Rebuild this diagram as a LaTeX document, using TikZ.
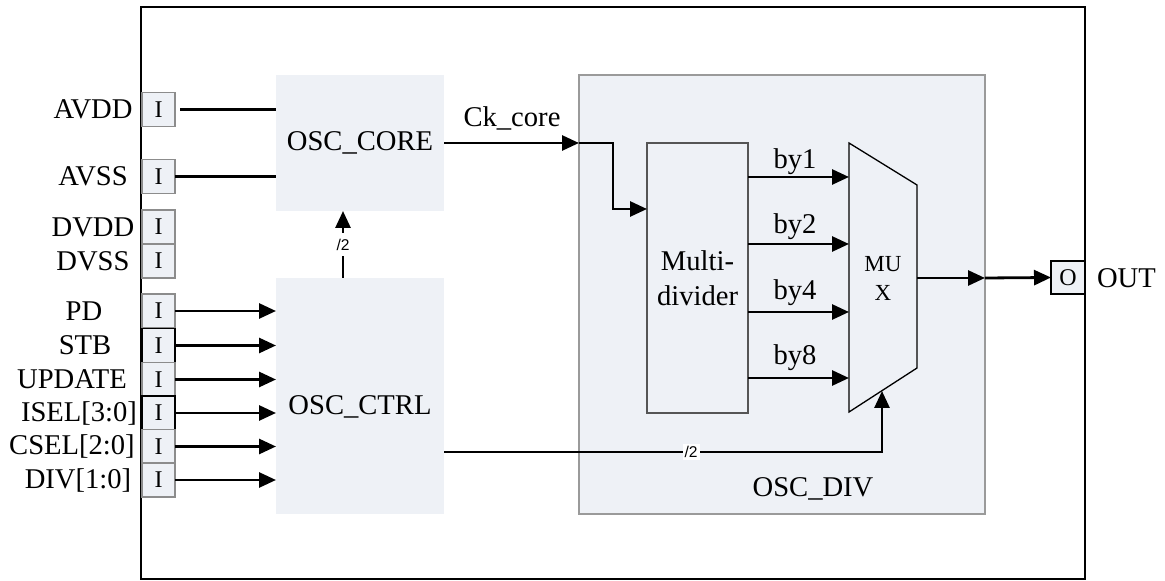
\documentclass[tikz,border=0pt]{standalone}
\usepackage{fontspec}
\setmainfont{Liberation Serif}
\newfontfamily\smallsans{Liberation Sans}
\usetikzlibrary{arrows.meta}
\definecolor{boxfill}{HTML}{EEF1F6}
\definecolor{pinborder}{HTML}{8C8C8C}
\definecolor{divborder}{HTML}{9A9A9A}
\definecolor{mdborder}{HTML}{555555}
\begin{document}
\begin{tikzpicture}[x=0.5pt,y=-0.5pt,
  every node/.style={inner sep=0pt, outer sep=0pt},
  pinbox/.style={draw=pinborder, line width=0.75pt, fill=boxfill, minimum width=16.5pt, minimum height=17pt, font=\fontsize{12}{13}\selectfont},
  pinblk/.style={pinbox, draw=black},
  blk/.style={fill=boxfill},
  lbl/.style={font=\fontsize{14.3}{17.5}\selectfont},
  wire/.style={line width=1.4pt},
  arr/.style={wire, -{Triangle[length=8.5pt,width=7.5pt]}},
  slashup/.style={font=\smallsans\fontsize{7.8}{8}\selectfont, fill=white, inner xsep=1pt, inner ysep=3pt},
  slashlo/.style={font=\smallsans\fontsize{7.8}{8}\selectfont, fill=white, inner sep=1pt}
]
\useasboundingbox (0,0) rectangle (1165,581);
\draw[line width=0.75pt] (141,7) rectangle (1085,579);

% main blocks
\node[blk, lbl, minimum width=84pt, minimum height=68pt] (core) at (360,143) {OSC\_CORE};
\node[blk, minimum width=84pt, minimum height=118pt] (ctrl) at (360,396) {};
\node[lbl] (ctrltxt) at (360,407) {OSC\_CTRL};
\node[blk, draw=divborder, line width=0.75pt, minimum width=203pt, minimum height=219.5pt] (div) at (782,294.5) {};
\node[lbl] (divtxt) at (813,489) {OSC\_DIV};
\node[draw=mdborder, line width=0.6pt, fill=boxfill, minimum width=50.5pt, minimum height=135pt, lbl, align=center] (md) at (697.5,278) {Multi-\\divider};

% MUX
\coordinate (m1) at (849,143);
\coordinate (m2) at (917,185);
\coordinate (m3) at (917,368);
\coordinate (m4) at (849,412);
\draw[line width=0.65pt] (m1) -- (m2) -- (m3) -- (m4) -- cycle;
\node[font=\fontsize{11.5}{14.5}\selectfont, align=center] (muxtxt) at (883,278) {MU\\X};

% pins
\node[pinbox] (pavdd) at (158.5,109.5) {I};
\node[pinbox] (pavss) at (158.5,176.5) {I};
\node[pinbox] (pdvdd) at (158.5,227) {I};
\node[pinbox] (pdvss) at (158.5,261) {I};
\node[pinbox] (ppd) at (158.5,311) {I};
\node[pinblk] (pstb) at (158.5,345.5) {I};
\node[pinbox] (pupd) at (158.5,379.5) {I};
\node[pinblk] (pisel) at (158.5,413) {I};
\node[pinbox] (pcsel) at (158.5,446.5) {I};
\node[pinbox] (pdiv) at (158.5,480) {I};
\node[pinblk, minimum width=17pt, minimum height=16.5pt] (popin) at (1068,277.5) {O};

% pin labels
\node[lbl] (lavdd) at (93,109) {AVDD};
\node[lbl] (lavss) at (93,176) {AVSS};
\node[lbl] (ldvdd) at (93,227) {DVDD};
\node[lbl] (ldvss) at (93,261) {DVSS};
\node[lbl] (lpd) at (84,311) {PD};
\node[lbl] (lstb) at (85,345) {STB};
\node[lbl] (lupd) at (72,379) {UPDATE};
\node[lbl] (lisel) at (79,413) {ISEL[3:0]};
\node[lbl] (lcsel) at (72,446) {CSEL[2:0]};
\node[lbl] (ldiv) at (78,480) {DIV[1:0]};
\node[lbl, anchor=west] (lout) at (1097,278) {OUT};

% supply wires
\draw[wire, shorten <=2.5pt] (pavdd.east) -- (core.west |- pavdd.east);
\draw[wire] (pavss.east) -- (core.west |- pavss.east);

% control inputs
\foreach \p in {ppd,pstb,pupd,pisel,pcsel,pdiv}
  \draw[arr] (\p.east) -- (ctrl.west |- \p.east);

% ctrl -> core
\coordinate (vx) at (343,0);
\draw[arr] (ctrl.north -| vx) -- (core.south -| vx) node[slashup, midway] {/2};

% Ck_core
\draw[arr] (core.east) -- (div.west |- core.east);
\node[lbl] (cklbl) at (512,118) {Ck\_core};
\coordinate (ckin) at (0,209);
\coordinate (ckx) at (613,0);
\draw[arr] (div.west |- core.east) -- (ckx |- core.east) -- (ckx |- ckin) -- (md.west |- ckin);

% divider outputs
\coordinate (y1) at (0,177);
\coordinate (y2) at (0,244);
\coordinate (y3) at (0,312);
\coordinate (y4) at (0,378);
\draw[arr] (md.east |- y1) -- (m1 |- y1);
\draw[arr] (md.east |- y2) -- (m1 |- y2);
\draw[arr] (md.east |- y3) -- (m1 |- y3);
\draw[arr] (md.east |- y4) -- (m1 |- y4);
\node[lbl] (lby1) at (795,162) {by1};
\node[lbl] (lby2) at (795,227) {by2};
\node[lbl] (lby4) at (795,293) {by4};
\node[lbl] (lby8) at (795,358) {by8};

% select
\coordinate (cy) at (0,452);
\coordinate (mc) at (882,391);
\draw[arr] (ctrl.east |- cy) -| (mc) node[slashlo, pos=0.282] {/2};

% output
\coordinate (mo) at (917,278);
\draw[arr] (mo) -- (div.east |- mo);
\draw[arr] (div.east |- mo) -- (popin.west);
\end{tikzpicture}
\end{document}
